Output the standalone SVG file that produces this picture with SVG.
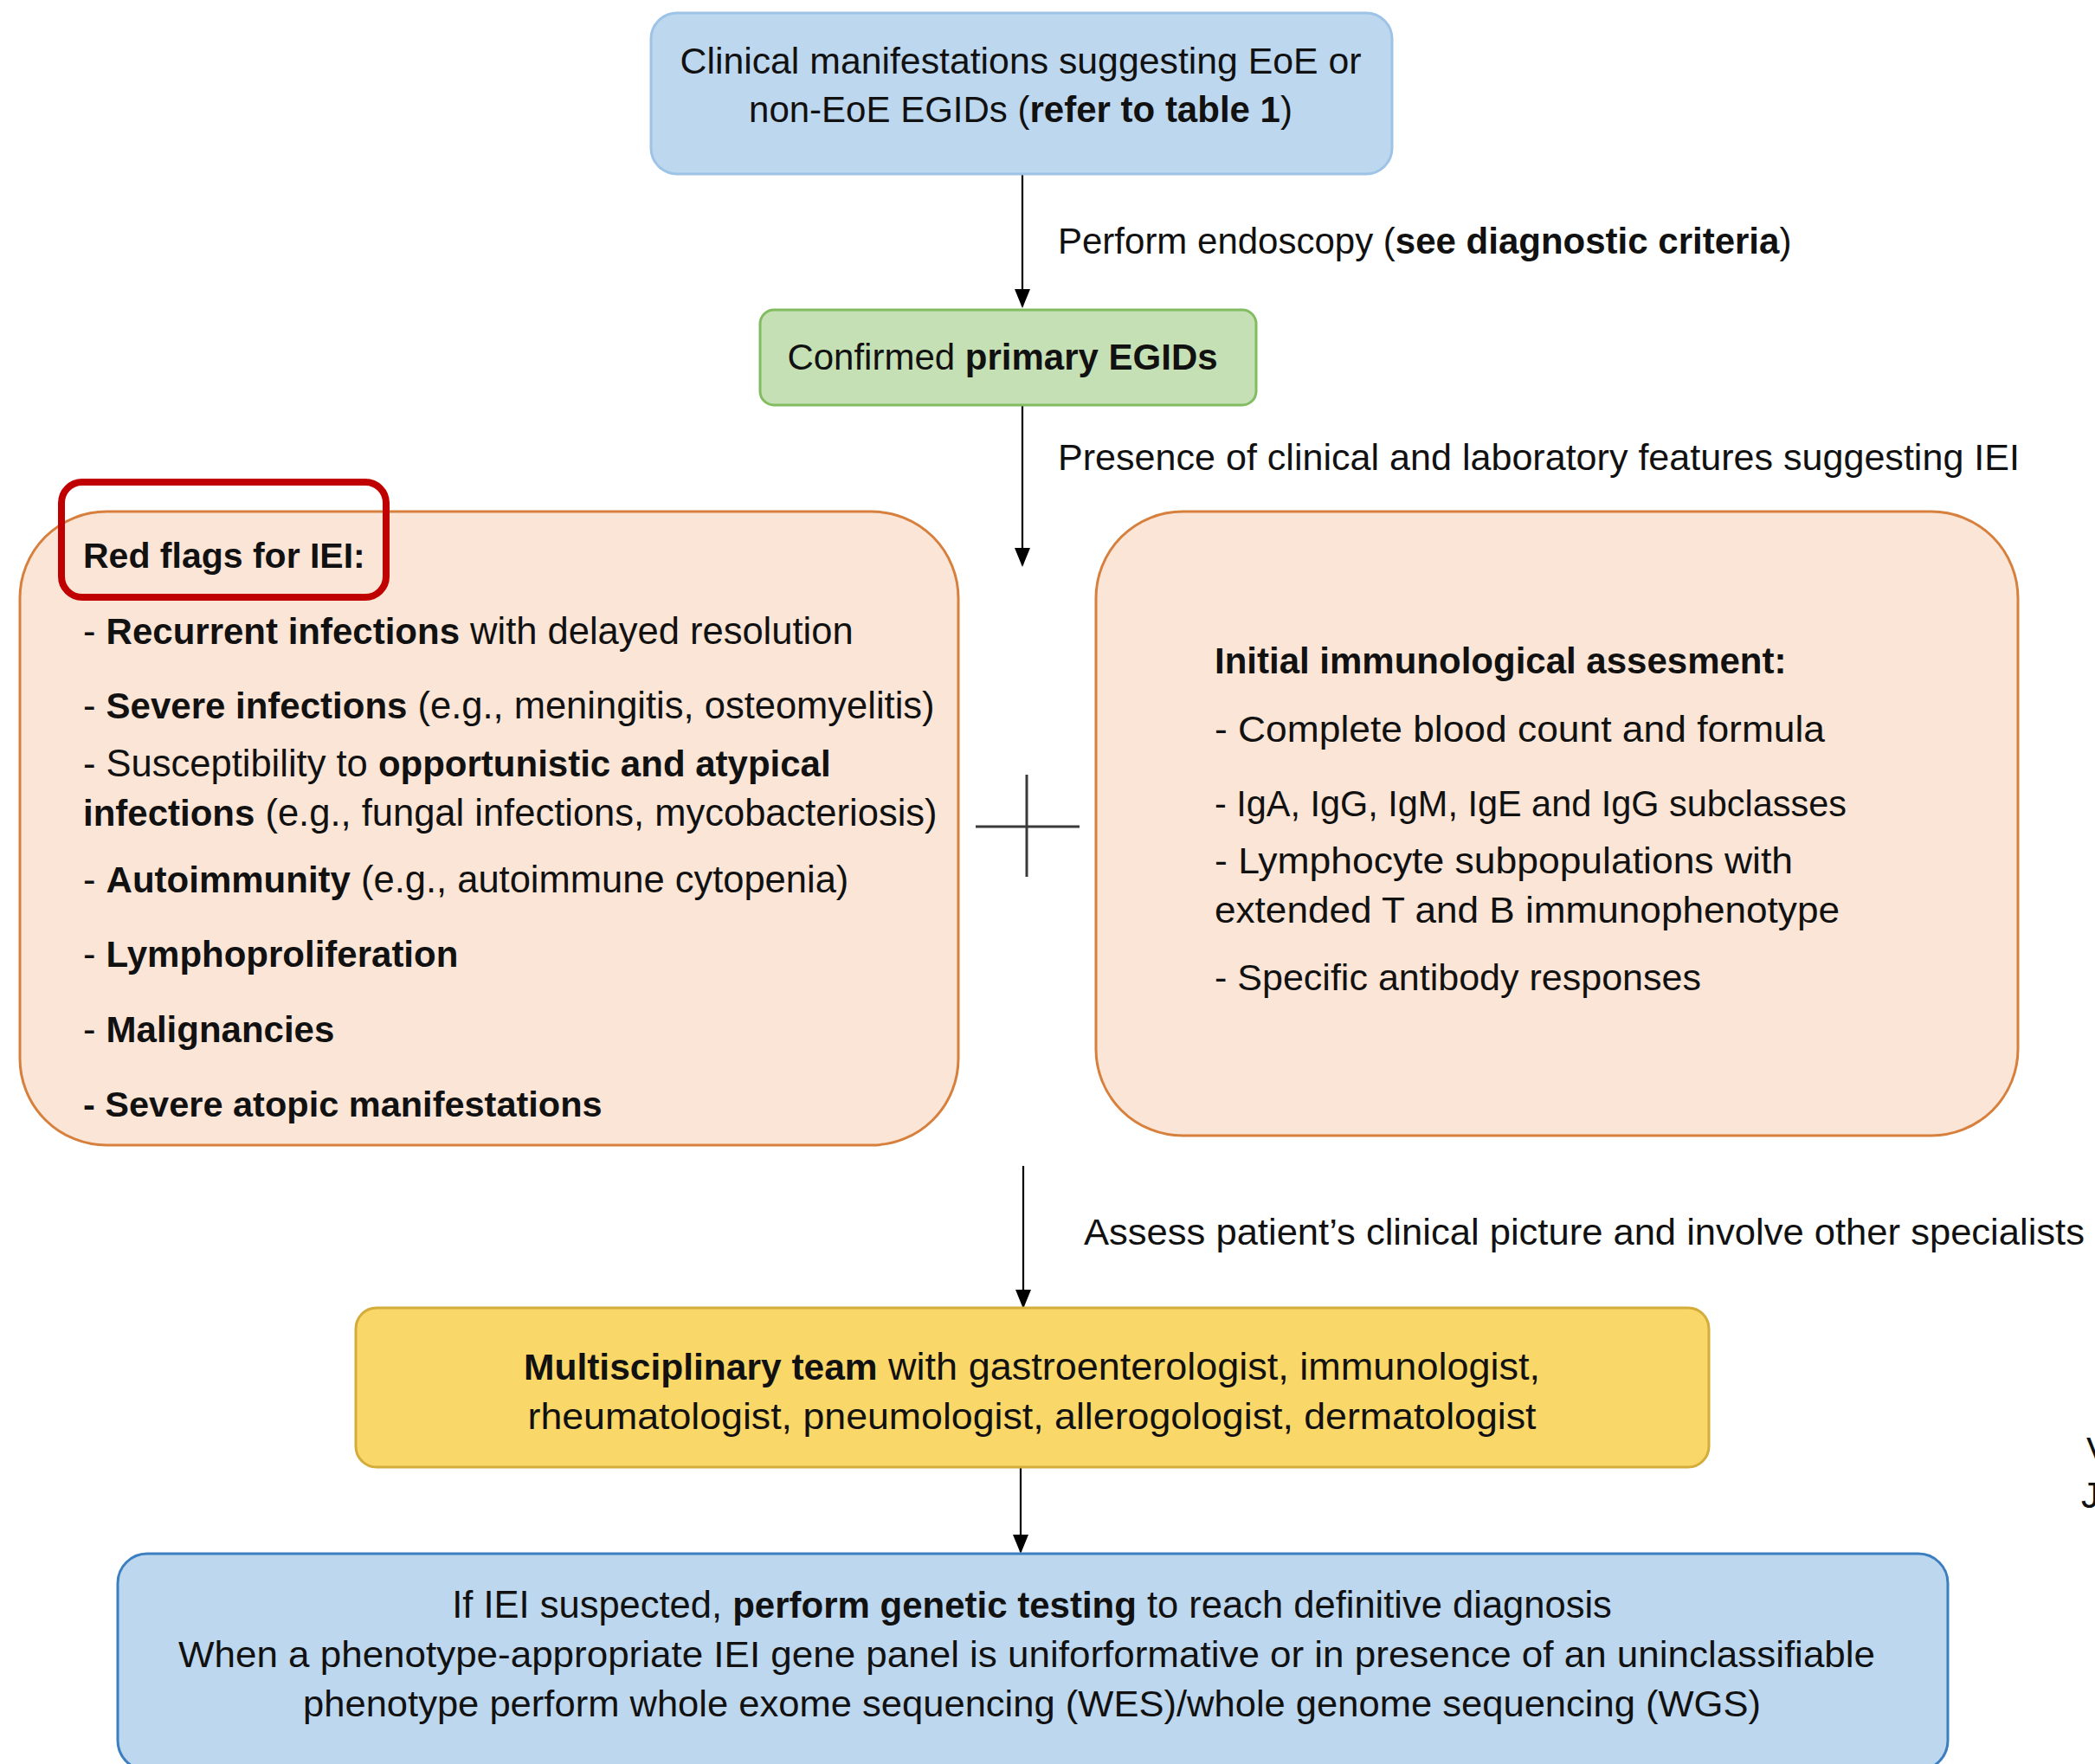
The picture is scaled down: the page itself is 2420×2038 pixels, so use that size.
<svg xmlns="http://www.w3.org/2000/svg" width="2420" height="2038" viewBox="0 0 2420 2038">
<style>
text{font-family:"Liberation Sans",Arial,sans-serif;font-size:42px;fill:#111}
.b{font-weight:bold}
.c{text-anchor:middle}
.L text{font-size:43.5px}
.L .b{font-size:42px}
.conn{stroke:#000;stroke-width:2.2;fill:none}
.blue1{fill:#BDD7EE;stroke:#9DC3E6;stroke-width:3}
.green{fill:#C5E0B4;stroke:#82BC60;stroke-width:3}
.peach{fill:#FBE5D6;stroke:#D7803D;stroke-width:3}
.yellow{fill:#FAD769;stroke:#D4AC3A;stroke-width:3}
.blue2{fill:#BDD7EE;stroke:#3C7FC0;stroke-width:3}
</style>
<defs>
<marker id="ad" markerUnits="userSpaceOnUse" markerWidth="22" markerHeight="18" refX="20" refY="9" orient="auto" viewBox="0 0 22 18">
<path d="M0,0 L22,9 L0,18 Z" fill="#000"/>
</marker>
</defs>
<rect width="2420" height="2038" fill="#fff"/>

<g id="connectors">
<line class="conn" x1="1181" y1="202" x2="1181" y2="354" marker-end="url(#ad)"/>
<line class="conn" x1="1181" y1="469" x2="1181" y2="653" marker-end="url(#ad)"/>
<line class="conn" x1="1182" y1="1347" x2="1182" y2="1510" marker-end="url(#ad)"/>
<line class="conn" x1="1179" y1="1696" x2="1179" y2="1793" marker-end="url(#ad)"/>
<text x="1222" y="293">Perform endoscopy (<tspan class="b">see diagnostic criteria</tspan>)</text>
<text x="1222" y="543" textLength="1111" lengthAdjust="spacingAndGlyphs">Presence of clinical and laboratory features suggesting IEI</text>
<text x="1252" y="1438" textLength="1156" lengthAdjust="spacingAndGlyphs">Assess patient’s clinical picture and involve other specialists</text>
</g>

<g id="node-clinical">
<rect class="blue1" x="752" y="15" width="856" height="186" rx="30"/>
<text class="c" x="1179" y="85" textLength="787" lengthAdjust="spacingAndGlyphs">Clinical manifestations suggesting EoE or</text>
<text class="c" x="1179" y="141">non-EoE EGIDs (<tspan class="b">refer to table 1</tspan>)</text>
</g>

<g id="node-confirmed">
<rect class="green" x="878" y="358" width="573" height="110" rx="16"/>
<text class="c" x="1158" y="427">Confirmed <tspan class="b">primary EGIDs</tspan></text>
</g>

<g id="node-redflags">
<rect class="peach" x="23" y="591" width="1084" height="732" rx="100"/>
<rect x="71" y="557" width="375" height="133" rx="24" fill="none" stroke="#C00000" stroke-width="8"/>
<text class="b" x="96" y="656" style="font-size:41px">Red flags for IEI:</text>
<g class="L">
<text x="96" y="744">- <tspan class="b">Recurrent infections</tspan> with delayed resolution</text>
<text x="96" y="830">- <tspan class="b">Severe infections</tspan> (e.g., meningitis, osteomyelitis)</text>
<text x="96" y="897">- Susceptibility to <tspan class="b">opportunistic and atypical</tspan></text>
<text x="96" y="954"><tspan class="b">infections</tspan> (e.g., fungal infections, mycobacteriosis)</text>
<text x="96" y="1031">- <tspan class="b">Autoimmunity</tspan> (e.g., autoimmune cytopenia)</text>
<text x="96" y="1117">- <tspan class="b">Lymphoproliferation</tspan></text>
<text x="96" y="1204">- <tspan class="b">Malignancies</tspan></text>
<text x="96" y="1290"><tspan class="b" style="font-size:41.5px">- Severe atopic manifestations</tspan></text>
</g>
</g>

<g id="plus">
<line x1="1127" y1="955" x2="1247" y2="955" stroke="#3a3a3a" stroke-width="3"/>
<line x1="1186" y1="895" x2="1186" y2="1013" stroke="#3a3a3a" stroke-width="3"/>
</g>

<g id="node-assessment">
<rect class="peach" x="1266" y="591" width="1065" height="721" rx="100"/>
<text class="b" x="1403" y="778">Initial immunological assesment:</text>
<text x="1403" y="857" textLength="705" lengthAdjust="spacingAndGlyphs">- Complete blood count and formula</text>
<text x="1403" y="943" textLength="730" lengthAdjust="spacingAndGlyphs">- IgA, IgG, IgM, IgE and IgG subclasses</text>
<text x="1403" y="1009" textLength="668" lengthAdjust="spacingAndGlyphs">- Lymphocyte subpopulations with</text>
<text x="1403" y="1066" textLength="722" lengthAdjust="spacingAndGlyphs">extended T and B immunophenotype</text>
<text x="1403" y="1144" textLength="562" lengthAdjust="spacingAndGlyphs">- Specific antibody responses</text>
</g>

<g id="node-mdt">
<rect class="yellow" x="411" y="1511" width="1563" height="184" rx="24"/>
<text class="c" x="1192" y="1594" style="font-size:45px"><tspan class="b" style="font-size:42.5px">Multisciplinary team</tspan> with gastroenterologist, immunologist,</text>
<text class="c" x="1192" y="1651" textLength="1165" lengthAdjust="spacingAndGlyphs">rheumatologist, pneumologist, allerogologist, dermatologist</text>
</g>

<g id="node-genetic">
<rect class="blue2" x="136" y="1795" width="2114" height="250" rx="34"/>
<text class="c" x="1192" y="1869" style="font-size:43.5px">If IEI suspected, <tspan class="b" style="font-size:42px">perform genetic testing</tspan> to reach definitive diagnosis</text>
<text class="c" x="1186" y="1926" textLength="1960" lengthAdjust="spacingAndGlyphs">When a phenotype-appropriate IEI gene panel is uniforformative or in presence of an uninclassifiable</text>
<text class="c" x="1192" y="1983" textLength="1684" lengthAdjust="spacingAndGlyphs">phenotype perform whole exome sequencing (WES)/whole genome sequencing (WGS)</text>
</g>

<g id="edge-fragments">
<text x="2410" y="1690">V</text>
<text x="2404" y="1742">J</text>
</g>
</svg>
